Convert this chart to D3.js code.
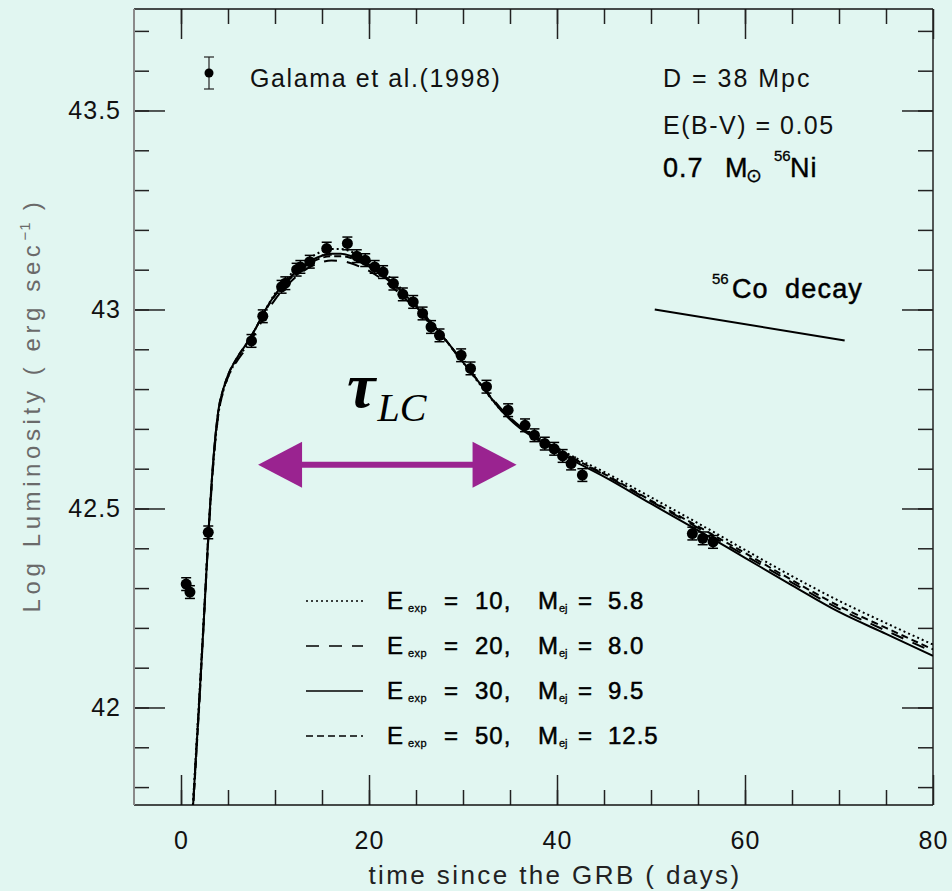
<!DOCTYPE html>
<html>
<head>
<meta charset="utf-8">
<script src="https://cdn.jsdelivr.net/npm/d3@7"></script>
<style>
html,body{margin:0;padding:0;background:#e1f6f1;}
svg{display:block;}
</style>
</head>
<body>
<div id="chart"></div>
<script>
// ---------- DATA ----------
const xMajorTicks = [0, 20, 40, 60, 80];
const xMinorTicks = [0,5,10,15,20,25,30,35,40,45,50,55,60,65,70,75];
const yMajorTicks = [42, 42.5, 43, 43.5];
const yMinorTicks = [41.8,41.9,42.0,42.1,42.2,42.3,42.4,42.5,42.6,42.7,42.8,42.9,43.0,43.1,43.2,43.3,43.4,43.5,43.6,43.7];
const yTickLabels = ["42", "42.5", "43", "43.5"];

// Galama et al. (1998) bolometric light curve points
const obsDay  = [0.55, 0.95, 2.9, 7.5, 8.7, 10.7, 11.1, 12.3, 12.7, 13.7, 15.5, 17.7, 18.7, 19.6, 20.6, 21.5, 22.6, 23.6, 24.7, 25.7, 26.6, 27.5, 29.8, 30.8, 32.5, 34.8, 36.6, 37.6, 38.7, 39.7, 40.6, 41.5, 42.7, 54.4, 55.5, 56.6];
const obsLogL = [42.31, 42.29, 42.44, 42.921, 42.983, 43.057, 43.066, 43.100, 43.107, 43.12, 43.153, 43.166, 43.134, 43.124, 43.107, 43.094, 43.065, 43.038, 43.019, 42.99, 42.956, 42.935, 42.885, 42.852, 42.806, 42.747, 42.709, 42.684, 42.663, 42.65, 42.632, 42.613, 42.584, 42.437, 42.425, 42.416];
const obsErr = 0.016;

// Model light curves (day grid shared)
const modelDays = [1.2,1.5,2,2.5,3,3.5,4,4.5,5,6,7,8,9,10,11,12,13,14,15,16,17,18,19,20,22,24,26,28,30,32,34,36,38,40,42,45,50,55,60,65,70,75,80];
const modelE10 = [41.73,41.85,42.05,42.26,42.47,42.63,42.74,42.795,42.83,42.875,42.91,42.955,43.0,43.04,43.07,43.097,43.118,43.134,43.146,43.152,43.152,43.146,43.135,43.122,43.085,43.038,42.985,42.928,42.867,42.806,42.748,42.705,42.676,42.652,42.627,42.592,42.528,42.463,42.396,42.33,42.268,42.212,42.158];
const modelE20 = [41.72,41.84,42.04,42.25,42.46,42.63,42.74,42.795,42.83,42.872,42.905,42.945,42.988,43.025,43.053,43.077,43.096,43.11,43.119,43.123,43.122,43.117,43.108,43.097,43.065,43.024,42.978,42.926,42.868,42.81,42.752,42.708,42.677,42.65,42.622,42.585,42.518,42.451,42.382,42.314,42.248,42.193,42.14];
const modelE30 = [41.72,41.84,42.04,42.25,42.47,42.64,42.75,42.80,42.835,42.88,42.915,42.955,43.0,43.037,43.066,43.09,43.11,43.125,43.135,43.14,43.14,43.135,43.125,43.113,43.078,43.033,42.983,42.928,42.868,42.808,42.748,42.703,42.672,42.645,42.617,42.58,42.512,42.445,42.376,42.307,42.24,42.185,42.13];
const modelE50 = [41.71,41.83,42.03,42.25,42.47,42.64,42.75,42.80,42.835,42.88,42.915,42.955,42.998,43.035,43.063,43.086,43.105,43.12,43.13,43.134,43.134,43.13,43.12,43.108,43.074,43.031,42.982,42.928,42.868,42.809,42.75,42.706,42.676,42.65,42.623,42.587,42.52,42.455,42.388,42.32,42.255,42.2,42.146];

const seriesEexp = ["10", "20", "30", "50"];
const seriesMej  = ["5.8", "8.0", "9.5", "12.5"];
const seriesDash = ["2,3", "13,10", null, "7,4"];

// 56Co decay reference slope
const coDays = [50.4, 70.6];
const coLogL = [43.0, 42.922];

// tau_LC arrow (days) and its level
const arrowDays = [8.2, 35.7];
const arrowLogL = 42.61;

// ---------- CHART ----------
const W = 952, H = 891;
const FONT = "'Liberation Sans', Arial, sans-serif";
const svg = d3.select("#chart").append("svg").attr("width", W).attr("height", H)
  .style("font-family", FONT);
svg.append("rect").attr("width", W).attr("height", H).attr("fill", "#e1f6f1");

const L = 134, R = 933, T = 9, B = 805;
const x = d3.scaleLinear().domain([-5, 80]).range([L, R]);
const y = d3.scaleLinear().domain([41.755, 43.755]).range([B, T]);

svg.append("clipPath").attr("id", "clip").append("rect")
  .attr("x", L).attr("y", T).attr("width", R - L).attr("height", B - T);

// Axes (ticks inward)
function styleAxis(g) {
  g.select(".domain").remove();
  g.selectAll(".tick line").attr("stroke", "#222").attr("stroke-width", 1.5);
  g.selectAll(".tick text").attr("fill", "#111").style("font-size", "25px")
    .style("letter-spacing", "1px").style("font-family", FONT);
}
svg.append("g").attr("transform", `translate(0,${B})`)
  .call(d3.axisBottom(x).tickValues(xMinorTicks).tickSize(-15).tickFormat(""))
  .call(styleAxis);
svg.append("g").attr("transform", `translate(0,${B})`)
  .call(d3.axisBottom(x).tickValues(xMajorTicks).tickSize(-30).tickPadding(26).tickFormat(d3.format("d")))
  .call(styleAxis);
svg.append("g").attr("transform", `translate(0,${T})`)
  .call(d3.axisTop(x).tickValues(xMinorTicks).tickSize(-15).tickFormat(""))
  .call(styleAxis);
svg.append("g").attr("transform", `translate(0,${T})`)
  .call(d3.axisTop(x).tickValues(xMajorTicks).tickSize(-30).tickFormat(""))
  .call(styleAxis);

svg.append("g").attr("transform", `translate(${L},0)`)
  .call(d3.axisLeft(y).tickValues(yMinorTicks).tickSize(-15).tickFormat(""))
  .call(styleAxis);
svg.append("g").attr("transform", `translate(${L},0)`)
  .call(d3.axisLeft(y).tickValues(yMajorTicks).tickSize(-31).tickPadding(13)
    .tickFormat((d, i) => yTickLabels[i]))
  .call(styleAxis);
svg.append("g").attr("transform", `translate(${R},0)`)
  .call(d3.axisRight(y).tickValues(yMinorTicks).tickSize(-15).tickFormat(""))
  .call(styleAxis);
svg.append("g").attr("transform", `translate(${R},0)`)
  .call(d3.axisRight(y).tickValues(yMajorTicks).tickSize(-31).tickFormat(""))
  .call(styleAxis);

// Frame
svg.append("line").attr("x1", L).attr("x2", R).attr("y1", T).attr("y2", T).attr("stroke", "#111").attr("stroke-width", 1.5);
svg.append("line").attr("x1", L).attr("x2", R).attr("y1", B).attr("y2", B).attr("stroke", "#111").attr("stroke-width", 1.5);
svg.append("line").attr("x1", L).attr("x2", L).attr("y1", T).attr("y2", B).attr("stroke", "#8a8a8a").attr("stroke-width", 2);
svg.append("line").attr("x1", R).attr("x2", R).attr("y1", T).attr("y2", B).attr("stroke", "#222").attr("stroke-width", 1.5);

// Axis titles
svg.append("text").attr("x", 555).attr("y", 884).attr("text-anchor", "middle")
  .style("font-size", "26px").style("letter-spacing", "2.4px").attr("fill", "#222")
  .text("time since the GRB ( days)");
const yt = svg.append("text").attr("transform", "translate(40,405) rotate(-90)")
  .attr("text-anchor", "middle").style("font-size", "24px").style("letter-spacing", "4.6px").attr("fill", "#6a6a6a");
yt.append("tspan").text("Log Luminosity ( erg sec");
yt.append("tspan").attr("dy", -10).style("font-size", "15px").style("letter-spacing", "1px").text("−1");
yt.append("tspan").attr("dy", 10).text(" )");

// Model curves
const models = [modelE10, modelE20, modelE30, modelE50];
const line = d3.line().x((d, i) => x(modelDays[i])).y(d => y(d)).curve(d3.curveMonotoneX);
const gm = svg.append("g").attr("clip-path", "url(#clip)");
models.forEach((m, k) => {
  gm.append("path").attr("d", line(m)).attr("fill", "none").attr("stroke", "#000")
    .attr("stroke-width", 2).attr("stroke-dasharray", seriesDash[k]);
});

// Observations
const gd = svg.append("g").attr("clip-path", "url(#clip)");
obsDay.forEach((d, i) => {
  const cx = x(d), cy = y(obsLogL[i]);
  gd.append("line").attr("x1", cx).attr("x2", cx).attr("y1", y(obsLogL[i] + obsErr)).attr("y2", y(obsLogL[i] - obsErr))
    .attr("stroke", "#000").attr("stroke-width", 1.5);
  [obsLogL[i] + obsErr, obsLogL[i] - obsErr].forEach(v => {
    gd.append("line").attr("x1", cx - 5).attr("x2", cx + 5).attr("y1", y(v)).attr("y2", y(v))
      .attr("stroke", "#000").attr("stroke-width", 1.5);
  });
  gd.append("circle").attr("cx", cx).attr("cy", cy).attr("r", 5.5).attr("fill", "#000");
});

// Legend for observations
svg.append("line").attr("x1", 209).attr("x2", 209).attr("y1", 57).attr("y2", 89).attr("stroke", "#222").attr("stroke-width", 1.2);
svg.append("line").attr("x1", 204).attr("x2", 214).attr("y1", 57).attr("y2", 57).attr("stroke", "#222").attr("stroke-width", 1.2);
svg.append("line").attr("x1", 204).attr("x2", 214).attr("y1", 89).attr("y2", 89).attr("stroke", "#222").attr("stroke-width", 1.2);
svg.append("circle").attr("cx", 209).attr("cy", 73).attr("r", 4.5).attr("fill", "#000");
svg.append("text").attr("x", 250).attr("y", 87).style("font-size", "25px").style("letter-spacing", "1.6px")
  .attr("fill", "#111").text("Galama et al.(1998)");

// Top right annotations
svg.append("text").attr("x", 663).attr("y", 87).style("font-size", "25px").style("letter-spacing", "2px")
  .attr("fill", "#111").text("D = 38 Mpc");
svg.append("text").attr("x", 663).attr("y", 134).style("font-size", "25px").style("letter-spacing", "1.5px")
  .attr("fill", "#111").text("E(B-V) = 0.05");
const niG = svg.append("g").attr("fill", "#000").attr("stroke", "#000").attr("stroke-width", 0.4);
niG.append("text").attr("x", 663).attr("y", 177).style("font-size", "27px").style("letter-spacing", "1px").text("0.7");
niG.append("text").attr("x", 725).attr("y", 177).style("font-size", "27px").text("M");
niG.append("text").attr("x", 746).attr("y", 182).style("font-size", "19px").attr("stroke-width", 0.3).text("⊙");
niG.append("text").attr("x", 774).attr("y", 161).style("font-size", "15px").attr("stroke-width", 0.3).text("56");
niG.append("text").attr("x", 790).attr("y", 177).style("font-size", "27px").style("letter-spacing", "1px").text("Ni");

const coG = svg.append("g").attr("fill", "#000").attr("stroke", "#000").attr("stroke-width", 0.5);
coG.append("text").attr("x", 712).attr("y", 284).style("font-size", "15px").attr("stroke-width", 0.3).text("56");
coG.append("text").attr("x", 732).attr("y", 298).style("font-size", "27px").style("letter-spacing", "1px").text("Co");
coG.append("text").attr("x", 785).attr("y", 298).style("font-size", "27px").style("letter-spacing", "1.2px").text("decay");
svg.append("line").attr("x1", x(coDays[0])).attr("y1", y(coLogL[0])).attr("x2", x(coDays[1])).attr("y2", y(coLogL[1]))
  .attr("stroke", "#000").attr("stroke-width", 2);

// tau_LC label
const tau = svg.append("text").attr("x", 347).attr("y", 407).style("font-family", "'Liberation Serif', 'Times New Roman', serif").attr("fill", "#000");
tau.append("tspan").style("font-size", "64px").style("font-weight", "bold").style("font-style", "italic").text("τ");
tau.append("tspan").attr("dy", 14).attr("dx", 2).style("font-size", "40px").style("font-style", "italic").text("LC");

// Purple double arrow
const purple = "#9a2390";
const ax0 = x(arrowDays[0]), ax1 = x(arrowDays[1]), ay = y(arrowLogL);
svg.append("line").attr("x1", ax0 + 40).attr("x2", ax1 - 40).attr("y1", ay).attr("y2", ay).attr("stroke", purple).attr("stroke-width", 6);
svg.append("path").attr("d", `M${ax0},${ay} L${ax0 + 44},${ay - 23} L${ax0 + 44},${ay + 23} Z`).attr("fill", purple);
svg.append("path").attr("d", `M${ax1},${ay} L${ax1 - 44},${ay - 23} L${ax1 - 44},${ay + 23} Z`).attr("fill", purple);

// Model legend
const legY = [601, 646, 691, 736];
seriesEexp.forEach((e, k) => {
  const yy = legY[k];
  svg.append("line").attr("x1", 306).attr("x2", 363).attr("y1", yy).attr("y2", yy)
    .attr("stroke", "#000").attr("stroke-width", 1.5).attr("stroke-dasharray", seriesDash[k]);
  const g = svg.append("g").style("font-size", "24px").attr("fill", "#000").attr("stroke", "#000").attr("stroke-width", 0.5);
  g.append("text").attr("x", 387).attr("y", yy + 8).text("E");
  g.append("text").attr("x", 408).attr("y", yy + 11).style("font-size", "11px").style("letter-spacing", "0.5px").attr("stroke-width", 0.3).text("exp");
  g.append("text").attr("x", 444).attr("y", yy + 8).text("=");
  g.append("text").attr("x", 475).attr("y", yy + 8).style("letter-spacing", "1px").text(e + ",");
  g.append("text").attr("x", 538).attr("y", yy + 8).text("M");
  g.append("text").attr("x", 559).attr("y", yy + 11).style("font-size", "11px").attr("stroke-width", 0.3).text("ej");
  g.append("text").attr("x", 578).attr("y", yy + 8).text("=");
  g.append("text").attr("x", 608).attr("y", yy + 8).style("letter-spacing", "1px").text(seriesMej[k]);
});
</script>
</body>
</html>
